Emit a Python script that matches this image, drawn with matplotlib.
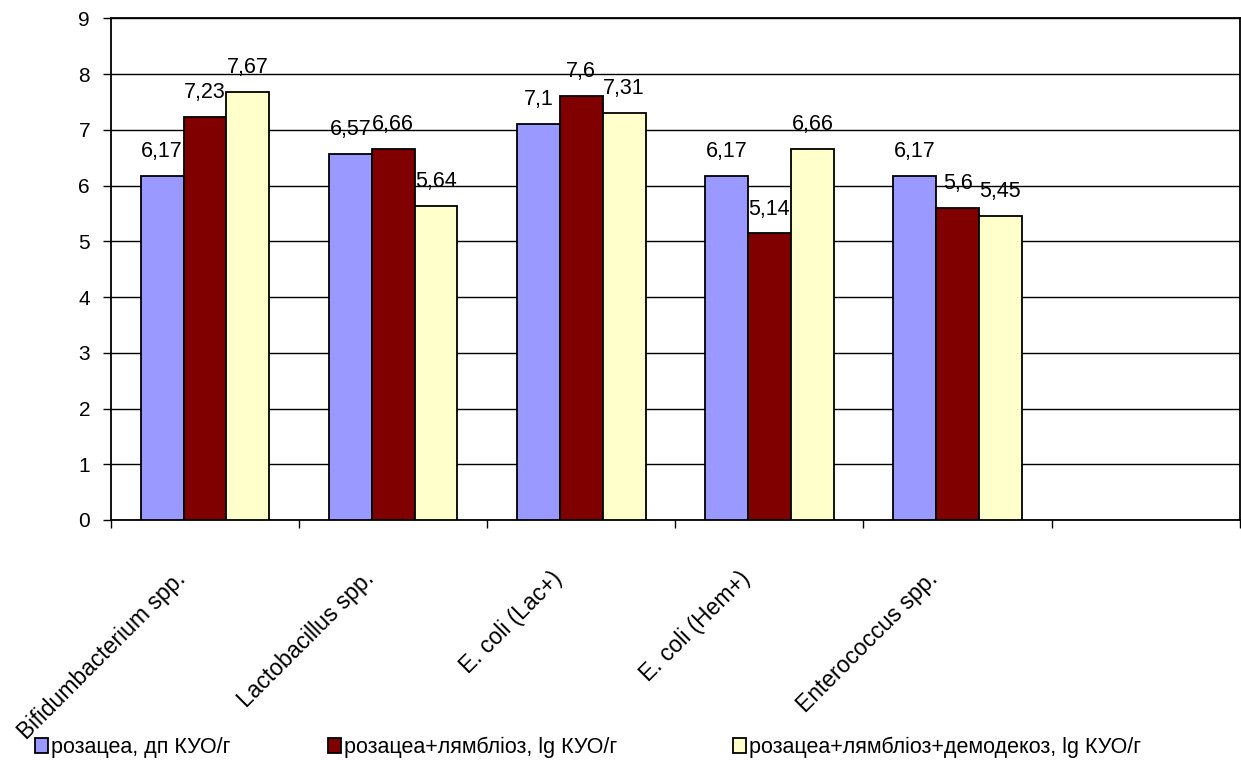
import numpy as np
import matplotlib
matplotlib.use("Agg")
from matplotlib import pyplot as plt
from matplotlib.patches import Patch

plt.rcParams['font.family'] = ['Liberation Sans', 'DejaVu Sans']

categories = ["Bifidumbacterium spp.", "Lactobacillus spp.", "E. coli (Lac+)",
              "E. coli (Hem+)", "Enterococcus spp.", ""]
rosacea = [6.17, 6.57, 7.1, 6.17, 6.17]
rosacea_giard = [7.23, 6.66, 7.6, 5.14, 5.6]
rosacea_giard_demod = [7.67, 5.64, 7.31, 6.66, 5.45]
labels_rosacea = ["6,17", "6,57", "7,1", "6,17", "6,17"]
labels_giard = ["7,23", "6,66", "7,6", "5,14", "5,6"]
labels_demod = ["7,67", "5,64", "7,31", "6,66", "5,45"]
series_names = ["розацеа, дп КУО/г", "розацеа+лямбліоз, lg КУО/г",
                "розацеа+лямбліоз+демодекоз, lg КУО/г"]
colors = ["#9999ff", "#800000", "#ffffcc"]

fig = plt.figure(figsize=(12.41, 7.63), dpi=100)
ax = fig.add_axes([0.0894, 0.3185, 0.9096, 0.6575])

n_cat = len(categories)
w = 0.228
x = np.arange(len(rosacea))
series = [rosacea, rosacea_giard, rosacea_giard_demod]
texts = [labels_rosacea, labels_giard, labels_demod]
for k, (vals, lab, col) in enumerate(zip(series, texts, colors)):
    pos = x + (k - 1) * w
    ax.bar(pos, vals, width=w, color=col, edgecolor="black", linewidth=1.3, zorder=3)
    for px, v, t in zip(pos, vals, lab):
        ax.text(px, v + 0.34, t, ha="center", va="baseline", fontsize=15.5, zorder=4)

ax.set_xlim(-0.5, n_cat - 0.5)
ax.set_ylim(0, 9)
ax.set_yticks(range(10))
ax.tick_params(axis="y", labelsize=15, length=6, width=1, direction="out", pad=9)
ax.yaxis.grid(True, color="black", linewidth=1, zorder=0)
ax.set_axisbelow(True)

# ticks at the borders between groups, names written under each group
ax.set_xticks(np.arange(n_cat + 1) - 0.5)
ax.set_xticklabels([])
ax.tick_params(axis="x", length=6, width=1, direction="out")
for i, name in enumerate(categories):
    ax.text(i - 0.165, -0.85, name, rotation=45, ha="right", va="top",
            rotation_mode="anchor", fontsize=16.5)

for s in ax.spines.values():
    s.set_linewidth(1.3)
    s.set_color("black")

# legend entries spread along the bottom edge
legend_x = [35, 328, 733]
for name, col, lx in zip(series_names, colors, legend_x):
    fig.legend(handles=[Patch(facecolor=col, edgecolor="black", linewidth=1.3)],
               labels=[name], loc="center left", bbox_to_anchor=(lx / 1241, 0.02),
               frameon=False, fontsize=15.5, borderpad=0, borderaxespad=0,
               handlelength=0.6, handleheight=0.7, handletextpad=0.15)

fig.savefig("out.png", dpi=100)
